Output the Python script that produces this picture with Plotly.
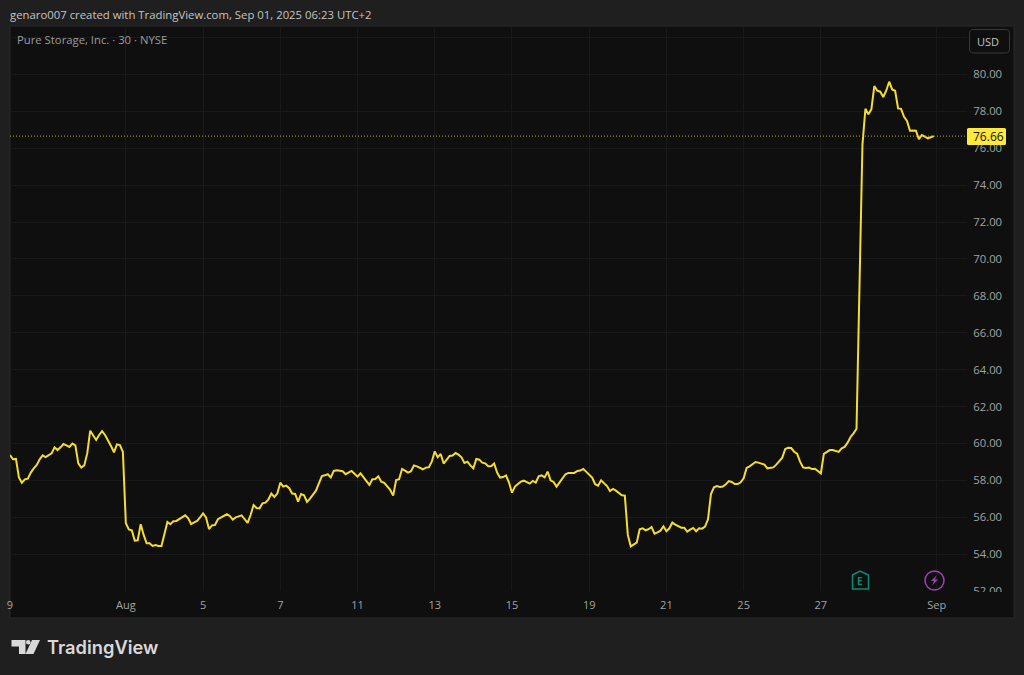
import plotly.graph_objects as go

close = [
 59.37,59.14,59.16,58.16,57.87,58.05,58.09,58.42,58.65,58.83,59.14,59.35,59.26,59.34,59.46,59.79,59.64,59.79,59.97,59.90,
 59.81,59.99,59.90,58.92,58.69,58.81,59.46,60.69,60.46,60.19,60.46,60.67,60.46,60.19,59.86,59.52,59.95,59.91,59.55,55.67,
 55.34,55.29,54.73,54.75,55.62,55.04,54.59,54.59,54.44,54.49,54.44,54.44,55.13,55.74,55.62,55.78,55.80,55.90,56.03,56.10,
 55.94,55.63,55.72,55.80,55.99,56.21,55.99,55.36,55.56,55.58,55.89,55.99,56.05,56.16,56.07,55.87,55.99,56.03,56.10,55.89,
 55.69,56.12,56.66,56.50,56.48,56.75,56.79,56.97,57.28,57.10,57.28,57.87,57.66,57.71,57.57,57.28,57.26,56.84,57.26,57.19,
 56.83,57.01,57.20,57.44,57.84,58.23,58.27,58.33,58.16,58.51,58.54,58.50,58.49,58.33,58.40,58.51,58.36,58.20,58.38,58.15,
 57.93,57.75,58.06,58.07,58.22,57.93,57.86,57.66,57.48,57.17,58.02,58.06,58.62,58.53,58.42,58.49,58.81,58.76,58.69,58.60,
 58.69,58.71,59.01,59.57,59.25,59.43,58.91,59.14,59.32,59.34,59.48,59.39,59.25,58.94,59.01,58.81,58.65,59.16,59.12,58.96,
 58.92,58.76,58.76,58.91,58.42,58.15,58.18,58.27,57.88,57.33,57.66,57.80,57.93,57.98,57.88,57.82,57.97,57.88,58.22,58.27,
 58.16,58.47,58.00,57.91,57.66,57.88,58.13,58.33,58.40,58.40,58.40,58.51,58.53,58.62,58.47,58.31,58.15,57.79,57.71,58.00,
 57.86,57.69,57.42,57.53,57.44,57.30,57.19,57.17,55.04,54.42,54.51,54.62,55.35,55.40,55.29,55.35,55.47,55.11,55.18,55.27,
 55.51,55.24,55.40,55.71,55.60,55.52,55.43,55.43,55.22,55.33,55.42,55.24,55.40,55.38,55.49,55.89,57.26,57.62,57.69,57.64,
 57.66,57.78,57.96,57.91,57.80,57.80,57.89,58.11,58.67,58.76,58.90,58.99,58.96,58.92,58.85,58.65,58.67,58.70,58.85,59.07,
 59.23,59.70,59.77,59.75,59.55,59.45,59.01,58.70,58.67,58.69,58.61,58.63,58.50,58.38,59.43,59.52,59.64,59.64,59.61,59.54,
 59.73,59.81,60.04,60.35,60.55,60.80,68.50,76.20,78.14,77.84,78.11,79.37,79.12,79.07,78.78,79.12,79.61,79.19,79.12,78.16,
 78.14,77.71,77.48,76.95,76.97,76.95,76.50,76.72,76.63,76.54,76.60,76.66,
]
bars = list(range(len(close)))

date_tick_bars = [0, 39, 65, 91, 117, 143, 169, 195, 221, 247, 273, 312]
date_tick_labels = ["9", "Aug", "5", "7", "11", "13", "15", "19", "21", "25", "27", "Sep"]
price_ticks = [52, 54, 56, 58, 60, 62, 64, 66, 68, 70, 72, 74, 76, 78, 80, 82]
price_labels = [f"{v:.2f}" for v in price_ticks[:-1]] + [""]
last_price = 76.66

W, H = 1024, 675
L, R, T, B = 10, 967, 26, 591
BG = "#1f1f1f"; PANEL = "#0f0f0f"; GRID = "#191919"; TXT = "#a3a3a3"
YEL = "#f5dd2e"
UI = "Open Sans"

def px(x): return (x - L) / (R - L)
def py(y): return (B - y) / (B - T)

def path(points, close_it=True):
    s = "M " + " L ".join(f"{px(x):.5f},{py(y):.5f}" for x, y in points)
    return s + (" Z" if close_it else "")

def rounded(x0, y0, x1, y1, r):
    p = lambda x, y: f"{px(x):.5f},{py(y):.5f}"
    return (f"M {p(x0+r,y0)} L {p(x1-r,y0)} Q {p(x1,y0)} {p(x1,y0+r)} L {p(x1,y1-r)} Q {p(x1,y1)} {p(x1-r,y1)} "
            f"L {p(x0+r,y1)} Q {p(x0,y1)} {p(x0,y1-r)} L {p(x0,y0+r)} Q {p(x0,y0)} {p(x0+r,y0)} Z")

shapes = [
    dict(type="rect", xref="paper", yref="paper", x0=px(10), x1=px(1014), y0=py(26), y1=py(618),
         fillcolor=PANEL, line=dict(color="#2a2a2a", width=1), layer="below"),
    # cuts the lowest price label at the edge of the price pane
    dict(type="rect", xref="paper", yref="paper", x0=px(968), x1=px(1013), y0=py(592), y1=py(617),
         fillcolor=PANEL, line=dict(width=0), layer="above"),
    dict(type="line", xref="paper", yref="y", x0=0, x1=1, y0=last_price, y1=last_price,
         line=dict(color="#b8a62a", width=1, dash="1px,2px"), layer="above"),
    dict(type="path", xref="paper", yref="paper", path=rounded(969.5, 29.5, 1009.5, 53, 4),
         fillcolor=PANEL, line=dict(color="#3a3a3a", width=1), layer="above"),
    # last price label
    dict(type="path", xref="paper", yref="paper", path=rounded(967, 128, 1006, 145, 1.5),
         fillcolor="#ffe93b", line=dict(width=0), layer="above"),
    # earnings marker
    dict(type="path", xref="paper", yref="paper", layer="above",
         path=path([(852.5, 575), (860, 571), (868.5, 575), (868.5, 589), (852.5, 589)]),
         fillcolor="rgba(0,0,0,0)", line=dict(color="#0b8a74", width=1.5)),
    # dividends marker
    dict(type="circle", xref="paper", yref="paper", layer="above",
         x0=px(925), x1=px(944), y0=py(571), y1=py(590),
         fillcolor="rgba(0,0,0,0)", line=dict(color="#a13fb5", width=1.5)),
    dict(type="path", xref="paper", yref="paper", layer="above",
         path=path([(936.5, 575.5), (931, 581), (934, 581), (932, 585.5), (938, 579.5), (935, 579.5)]),
         fillcolor="#a13fb5", line=dict(width=0)),
    # logo
    dict(type="path", xref="paper", yref="paper", layer="above",
         path=path([(11.5, 640), (25.5, 640), (25.5, 654), (19, 654), (19, 646.5), (11.5, 646.5)]),
         fillcolor="#d9d9d9", line=dict(width=0)),
    dict(type="circle", xref="paper", yref="paper", layer="above",
         x0=px(26), x1=px(30.5), y0=py(640), y1=py(644.5),
         fillcolor="#d9d9d9", line=dict(width=0)),
    dict(type="path", xref="paper", yref="paper", layer="above",
         path=path([(32, 640), (40, 640), (33.5, 654), (25.5, 654)]),
         fillcolor="#d9d9d9", line=dict(width=0)),
]

def note(x, y, text, size, color, anchor="left", family=UI, weight=None):
    f = dict(size=size, color=color, family=family)
    if weight:
        f["weight"] = weight
    return dict(xref="paper", yref="paper", x=px(x), y=py(y), text=text, showarrow=False,
                xanchor=anchor, yanchor="middle", font=f)

annotations = [
    note(8, 14, "genaro007 created with TradingView.com, Sep 01, 2025 06:23 UTC+2", 11.35, "#c4c4c4"),
    note(15, 40, "Pure Storage, Inc. · 30 · NYSE", 11.3, "#9c9c9c"),
    note(988, 41, "USD", 11, "#c4c4c4", anchor="center"),
    note(988, 136.5, "76.66", 12, "#111111", anchor="center"),
    note(860, 581, "<b>E</b>", 10, "#0b8a74", anchor="center"),
    note(45, 647, "TradingView", 18.3, "#d9d9d9", family="Inter", weight=600),
]

fig = go.Figure(go.Scatter(x=bars, y=close, mode="lines",
                           line=dict(color=YEL, width=2), hoverinfo="skip"))
fig.update_layout(
    width=W, height=H, margin=dict(l=L, r=W - R, t=T, b=H - B, autoexpand=False),
    paper_bgcolor=BG, plot_bgcolor=PANEL, showlegend=False,
    shapes=shapes, annotations=annotations,
    xaxis=dict(range=[0, 322.2], tickmode="array", tickvals=date_tick_bars, ticktext=date_tick_labels,
               showgrid=True, gridcolor=GRID, gridwidth=1, zeroline=False, showline=False,
               ticks="outside", ticklen=4, tickcolor="rgba(0,0,0,0)",
               tickfont=dict(family=UI, size=11, color=TXT)),
    yaxis=dict(range=[52, 82.63], side="right", tickmode="array", tickvals=price_ticks, ticktext=price_labels,
               showgrid=True, gridcolor=GRID, gridwidth=1, zeroline=False, showline=False,
               ticks="outside", ticklen=3, tickcolor="rgba(0,0,0,0)",
               tickfont=dict(family=UI, size=11.3, color=TXT)),
)
fig.write_html("out.html", config=dict(displayModeBar=False),
               post_script="document.body.style.margin='0';document.body.style.overflow='hidden';")
